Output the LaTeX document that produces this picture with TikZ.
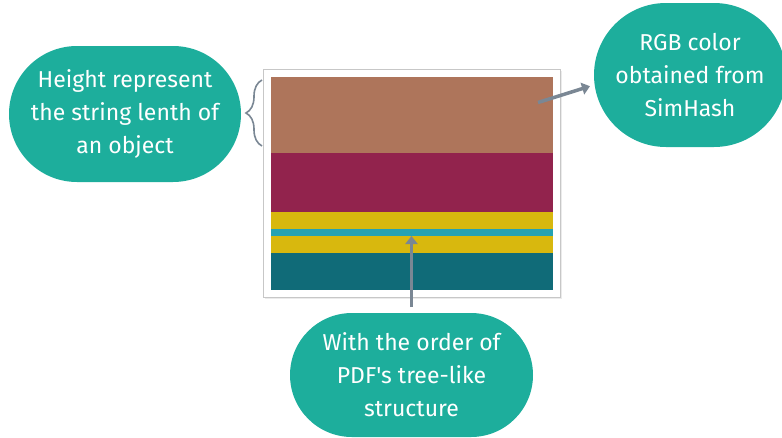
\documentclass[tikz,border=0pt]{standalone}
\usepackage{fontspec}
\setmainfont{Fira Sans}[Ligatures=TeXOff]
\usetikzlibrary{positioning,shapes.misc,decorations.pathreplacing,arrows.meta}

\definecolor{bubble}{HTML}{1DAE9C}
\definecolor{pointer}{HTML}{7A8794}
\definecolor{objbrown}{HTML}{AE755B}
\definecolor{objmaroon}{HTML}{92234D}
\definecolor{objyellow}{HTML}{D8B80E}
\definecolor{objcyan}{HTML}{25A2B3}
\definecolor{objteal}{HTML}{106B78}

\tikzset{
  note/.style={rounded rectangle, fill=bubble, text=white, align=center,
    font=\fontsize{23}{33}\selectfont, inner sep=0pt},
  band/.style={rectangle, minimum width=282.3pt, inner sep=0pt, outer sep=0pt},
  pointerline/.style={pointer, line width=3.5pt, -{Triangle[length=8pt,width=12pt]}}
}

\begin{document}
\begin{tikzpicture}[x=1pt,y=-1pt]
\useasboundingbox (0,0) rectangle (782,437);

%frame of the object strip
\fill[black!8] (265,71) rectangle (561.5,298.5);
\draw[fill=white,draw=black!22,line width=0.8pt] (263.5,69.5) rectangle (560,297);

%bands, top to bottom
\node[band, fill=objbrown, minimum height=76.6pt, anchor=north west] (brown) at (270.7,76.7) {};
\node[band, fill=objmaroon, minimum height=58.4pt, below=0pt of brown] (maroon) {};
\node[band, fill=objyellow, minimum height=17.3pt, below=0pt of maroon] (yellowA) {};
\node[band, fill=objcyan, minimum height=7pt, below=0pt of yellowA] (cyan) {};
\node[band, fill=objyellow, minimum height=16.7pt, below=0pt of cyan] (yellowB) {};
\node[band, fill=objteal, minimum height=37.3pt, below=0pt of yellowB] (teal) {};

%notes
\node[note, minimum width=232pt, minimum height=136pt] (height) at (125,114)
  {Height represent\\the string lenth of\\an object};
\node[note, minimum width=192pt, minimum height=144pt] (color) at (690,75)
  {RGB color\\obtained from\\SimHash};
\node[note, minimum width=243pt, minimum height=124pt] (order) at (411.5,375)
  {With the order of\\PDF's tree-like\\structure};

%pointers
\coordinate (braceTop) at (262,80);
\coordinate (braceBot) at (262,146);
\draw[pointer, line width=1.6pt, decorate, decoration={brace, amplitude=16pt}]
  (braceBot) -- (braceTop);
\coordinate (hashpt) at (538,102.5);
\draw[pointerline, shorten >=4pt] (hashpt) -- (color.west |- 0,85);
\draw[pointerline] (order.north |- 0,307) -- (cyan.south -| order.north);
\end{tikzpicture}
\end{document}
